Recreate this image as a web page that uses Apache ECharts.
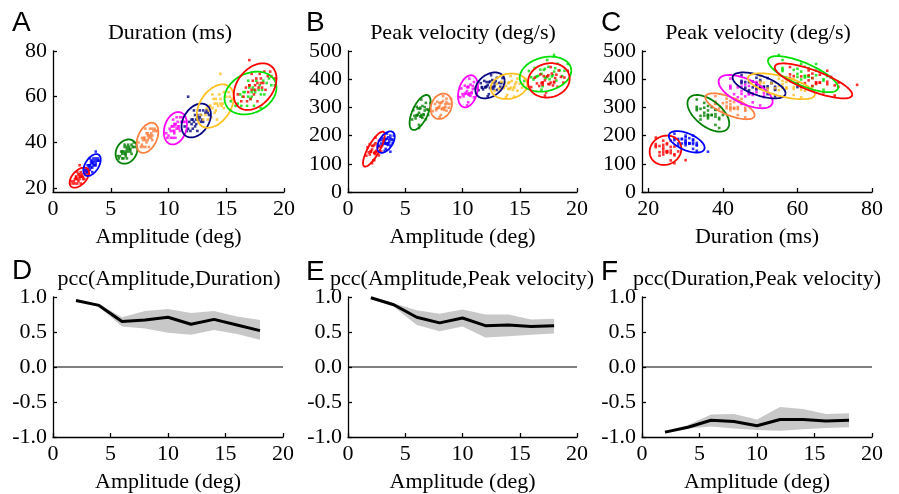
<!DOCTYPE html>
<html>
<head>
<meta charset="utf-8">
<script src="https://cdn.jsdelivr.net/npm/echarts@6/dist/echarts.min.js"></script>
<style>
html,body{margin:0;padding:0;background:#fff;}
#chart{width:899px;height:494px;}
</style>
</head>
<body>
<div id="chart"></div>
<script>
// ---------- data ----------
const clusterColors = ['#ff0000','#0000ff','#008000','#ff8040','#ff00ff','#000080','#ffc020','#00e000','#ff0000'];

const amplitude = [
  [2.3,2.6,1.9,2.9,1.7,2.4,2.1,2.4,2.2,2.7,2.0,2.5,1.6,3.1,2.4,2.1,2.3,2.5,2.0,2.8,1.8,2.3,2.2,2.7,1.9,2.6,2.0,2.3,2.4,2.1,2.9],
  [3.3,3.7,3.0,3.9,2.9,3.5,3.2,3.5,3.3,3.7,3.1,3.6,2.7,4.0,3.4,3.2,3.7,3.5,3.2,3.8,2.9,3.4,3.3,3.7,3.0,3.6,3.1,3.4,3.4,3.2,3.9],
  [6.3,6.7,5.9,7.0,5.7,6.5,6.1,6.5,6.2,6.8,6.0,6.6,5.6,7.2,6.4,6.2,6.6,6.1,6.9,5.8,6.4,6.3,6.8,6.0,6.7,6.0,6.3,6.4,6.2,7.0],
  [8.2,8.6,7.7,8.8,7.6,8.4,8.0,8.3,8.1,8.6,7.8,8.5,7.4,9.0,8.3,8.0,8.4,7.9,8.7,7.7,8.2,8.1,8.6,7.8,8.5,7.9,8.2,8.3,8.0,8.9],
  [10.5,10.9,10.1,11.2,9.9,10.7,10.4,10.7,10.5,11.0,10.2,10.8,9.8,11.4,10.6,10.4,10.8,10.3,11.1,10.0,10.6,10.5,11.0,10.2,10.9,10.3,10.5,10.6,10.4,11.3],
  [12.4,12.9,11.8,13.3,11.6,12.7,12.1,12.6,12.3,13.0,12.0,12.8,11.4,13.5,12.5,12.2,11.7,12.7,12.1,13.2,11.7,12.5,12.3,13.0,11.9,12.8,12.0,12.4,12.5,12.2,13.4],
  [14.0,14.7,13.3,15.2,13.0,14.4,13.7,14.3,13.9,14.8,13.5,14.5,12.8,15.5,14.2,13.8,14.5,14.5,13.6,15.0,13.2,14.1,14.0,14.8,13.4,14.6,13.6,14.1,14.2,13.8,15.3],
  [17.2,18.1,16.2,18.7,15.8,17.6,16.8,17.5,17.0,18.3,16.4,17.9,15.4,19.2,17.4,16.9,18.0,17.8,16.6,18.5,16.0,17.3,17.1,18.2,16.3,18.0,16.5,17.2,17.4,16.9,18.9],
  [17.5,18.2,16.7,18.8,16.3,17.9,17.1,17.8,17.3,18.4,16.9,18.0,16.0,19.2,17.7,17.2,17.0,18.0,17.0,18.6,16.5,17.6,17.4,18.3,16.8,18.1,17.0,17.5,17.7,17.2,18.9]
];
const duration = [
  [25,25,24,28,22,27,22,25,26,24,24,26,23,26,22,27,30,25,25,27,23,26,23,27,22,24,25,24,25,24,26],
  [31,31,30,33,27,33,28,30,32,30,29,32,28,32,27,33,36,31,30,32,28,32,29,33,27,30,30,29,31,30,32],
  [36,37,36,40,33,39,33,36,38,35,35,38,34,38,33,39,37,36,38,34,38,34,39,33,36,36,35,37,35,38],
  [43,43,42,46,38,46,38,42,44,41,41,44,40,45,38,46,43,42,45,39,44,40,46,38,42,42,41,43,41,45],
  [47,47,46,51,42,51,42,46,48,45,45,49,44,49,42,50,47,47,49,43,48,44,51,42,46,47,45,48,45,49],
  [50,50,49,54,45,54,46,50,52,49,48,52,47,52,45,54,60,51,50,53,46,52,47,54,45,49,50,48,51,49,53],
  [57,57,55,62,50,61,51,56,59,55,54,59,52,59,50,61,70,57,56,60,52,59,53,62,50,56,56,54,57,55,60],
  [62,63,61,68,56,67,56,62,64,61,60,65,58,65,56,67,55,63,62,66,57,64,59,67,56,61,62,60,63,60,65],
  [65,66,64,71,58,70,59,64,67,63,62,68,61,68,58,70,76,66,65,69,60,68,61,71,58,64,65,63,66,63,69]
];
const velocity = [
  [139,169,133,144,159,134,164,173,112,182,142,147,129,182,193,102,113,143,145,161,141,138,163,130,170,158,143,167,143,151,160],
  [171,191,166,174,184,167,188,194,153,200,172,176,164,200,207,146,143,173,174,186,172,170,187,165,191,184,173,189,173,179,185],
  [268,301,261,273,290,263,296,305,238,316,271,276,257,315,328,227,273,274,293,270,267,295,258,302,289,272,299,273,281,291],
  [295,319,290,299,312,291,316,323,273,331,297,301,287,330,340,265,298,300,313,296,294,315,288,320,311,298,318,298,305,312],
  [346,376,339,351,367,341,372,381,318,390,348,354,336,390,402,307,350,352,369,347,344,371,336,377,365,349,374,350,358,368],
  [369,393,364,373,386,365,390,397,347,405,371,375,361,404,414,339,372,373,374,387,370,368,389,362,394,385,372,392,373,379,386],
  [366,390,361,370,383,362,387,394,344,402,368,372,358,401,411,336,338,370,371,384,367,365,386,359,391,382,369,389,370,376,383],
  [406,439,399,411,429,400,434,444,375,455,408,414,394,454,468,363,486,410,412,431,407,404,433,395,440,427,410,437,410,419,430],
  [383,416,376,388,405,378,411,420,353,431,386,391,372,430,443,342,380,388,389,408,385,382,410,373,417,404,387,414,388,396,406]
];

// ellipses: [centerX, centerY, halfExtentX, halfExtentY, tilt]
const ellipseA = [
  [2.28,24.6,0.84,4.4,0.5],[3.38,30.1,0.75,4.8,0.5],[6.36,36.0,0.94,5.3,0.2],
  [8.18,42.0,0.94,6.6,0.4],[10.6,46.2,1.0,7.1,0.25],[12.4,49.6,1.27,7.4,0.35],
  [14.05,55.9,1.6,9.5,0.4],[17.1,61.6,2.25,9.35,0.25],[17.5,64.4,1.85,10.2,0.35]
];
const ellipseB = [
  [2.26,152,0.95,62,0.8],[3.32,177,0.76,38,0.5],[6.3,282,0.92,62,0.6],
  [8.15,304,0.93,45,0.2],[10.48,357,0.87,57,0.3],[12.4,378,1.28,46,0.35],
  [14.06,375,1.6,45,0.15],[17.25,418,2.25,62,0.2],[17.54,396,1.82,61,0.1]
];
const ellipseC = [
  [24.6,148,4.25,52,0.1],[30.3,178,4.8,38,-0.55],[36.1,279,5.6,65,-0.55],
  [41.9,304,6.6,46,-0.68],[46.1,356,7.25,59,-0.6],[49.7,378,7.1,46,-0.6],
  [55.7,375,9.0,46,-0.62],[61.5,418,9.4,64,-0.74],[64.3,394,10.4,62,-0.78]
];

const pccX = [2,4,6,8,10,12,14,16,18];
const pccAD = [0.95,0.88,0.65,0.67,0.71,0.61,0.68,0.60,0.52];
const pccAD_hi = [0.96,0.90,0.71,0.80,0.83,0.77,0.80,0.72,0.67];
const pccAD_lo = [0.94,0.86,0.58,0.55,0.49,0.46,0.53,0.47,0.39];
const pccAV = [0.99,0.89,0.71,0.63,0.70,0.59,0.60,0.58,0.59];
const pccAV_hi = [1.00,0.91,0.81,0.76,0.82,0.75,0.75,0.68,0.69];
const pccAV_lo = [0.98,0.86,0.60,0.51,0.58,0.42,0.44,0.46,0.48];
const pccDV = [-0.93,-0.86,-0.76,-0.78,-0.84,-0.75,-0.75,-0.77,-0.76];
const pccDV_hi = [-0.92,-0.83,-0.68,-0.67,-0.75,-0.57,-0.60,-0.67,-0.66];
const pccDV_lo = [-0.95,-0.88,-0.85,-0.88,-0.90,-0.91,-0.89,-0.87,-0.86];

const yTicksA = [20,40,60,80];
const xTicksC = [20,40,60,80];

// ---------- chart ----------
const SERIF = 'Liberation Serif';
const labelStyle = {color:'#000', fontFamily:SERIF, fontSize:22};
function baseAxis(extra){
  return Object.assign({
    axisLine:{show:true, onZero:false, lineStyle:{color:'#000', width:1.3}},
    axisTick:{show:true, inside:true, length:4, lineStyle:{color:'#000', width:1.3}},
    axisLabel:Object.assign({margin:6}, labelStyle),
    splitLine:{show:false},
    nameTextStyle:{color:'#000', fontFamily:SERIF, fontSize:22},
    nameLocation:'middle'
  }, extra);
}

const grids = [
  {left:53, top:51, width:231, height:141},
  {left:348, top:51, width:229, height:141},
  {left:642, top:51, width:230, height:141},
  {left:53, top:297, width:230, height:140},
  {left:348, top:297, width:229, height:140},
  {left:642, top:297, width:230, height:140}
];

const xAxes = [
  baseAxis({gridIndex:0, type:'value', min:0, max:20, interval:5, name:'Amplitude (deg)', nameGap:34}),
  baseAxis({gridIndex:1, type:'value', min:0, max:20, interval:5, name:'Amplitude (deg)', nameGap:34}),
  baseAxis({gridIndex:2, type:'value', min:18.3, max:80, name:'Duration (ms)', nameGap:34,
    axisLabel:Object.assign({margin:6, customValues:xTicksC}, labelStyle),
    axisTick:{show:true, inside:true, length:4, customValues:xTicksC, lineStyle:{color:'#000', width:1.3}}}),
  baseAxis({gridIndex:3, type:'value', min:0, max:20, interval:5, name:'Amplitude (deg)', nameGap:34}),
  baseAxis({gridIndex:4, type:'value', min:0, max:20, interval:5, name:'Amplitude (deg)', nameGap:34}),
  baseAxis({gridIndex:5, type:'value', min:0, max:20, interval:5, name:'Amplitude (deg)', nameGap:34})
];
const pccLabel = Object.assign({margin:6, formatter:v=>v.toFixed(1)}, labelStyle);
const yAxes = [
  baseAxis({gridIndex:0, type:'value', min:18.3, max:80,
    axisLabel:Object.assign({margin:6, customValues:yTicksA}, labelStyle),
    axisTick:{show:true, inside:true, length:4, customValues:yTicksA, lineStyle:{color:'#000', width:1.3}}}),
  baseAxis({gridIndex:1, type:'value', min:0, max:500, interval:100}),
  baseAxis({gridIndex:2, type:'value', min:0, max:500, interval:100}),
  baseAxis({gridIndex:3, type:'value', min:-1, max:1, interval:0.5, axisLabel:pccLabel}),
  baseAxis({gridIndex:4, type:'value', min:-1, max:1, interval:0.5, axisLabel:pccLabel}),
  baseAxis({gridIndex:5, type:'value', min:-1, max:1, interval:0.5, axisLabel:pccLabel})
];

function ellipseSeries(idx, rows){
  return {
    type:'custom', xAxisIndex:idx, yAxisIndex:idx, silent:true, z:3,
    data: rows,
    renderItem:function(params, api){
      const cx=api.value(0), cy=api.value(1), sx=api.value(2), sy=api.value(3), r=api.value(4);
      const k=Math.sqrt(1-r*r);
      const pts=[];
      for(let i=0;i<=90;i++){
        const t=i/90*2*Math.PI;
        pts.push(api.coord([cx+sx*Math.cos(t), cy+sy*(r*Math.cos(t)+k*Math.sin(t))]));
      }
      return {type:'polyline', shape:{points:pts}, style:{stroke:clusterColors[params.dataIndex], lineWidth:1.8, fill:null}};
    }
  };
}

function scatterSeries(idx, xs, ys){
  return xs.map((col,i)=>({
    type:'scatter', xAxisIndex:idx, yAxisIndex:idx, silent:true, z:2,
    symbol:'rect', symbolSize:2.6,
    itemStyle:{color:clusterColors[i]},
    data: col.map((v,j)=>[v, ys[i][j]])
  }));
}

function bandSeries(idx, lo, hi){
  return {
    type:'custom', xAxisIndex:idx, yAxisIndex:idx, silent:true, z:1,
    data:[[pccX[0], lo[0]]],
    renderItem:function(params, api){
      const pts=[];
      for(let i=0;i<pccX.length;i++) pts.push(api.coord([pccX[i], hi[i]]));
      for(let i=pccX.length-1;i>=0;i--) pts.push(api.coord([pccX[i], lo[i]]));
      return {type:'polygon', shape:{points:pts}, style:{fill:'#c8c8c8', stroke:null}};
    }
  };
}
function lineSeries(idx, ys){
  return {type:'line', xAxisIndex:idx, yAxisIndex:idx, silent:true, z:4, symbol:'none',
    lineStyle:{color:'#000', width:3}, data:pccX.map((x,i)=>[x, ys[i]])};
}
function zeroSeries(idx){
  return {type:'line', xAxisIndex:idx, yAxisIndex:idx, silent:true, z:2, symbol:'none',
    lineStyle:{color:'#000', width:1.2}, data:[[0,0],[20,0]]};
}

const series = [].concat(
  scatterSeries(0, amplitude, duration), [ellipseSeries(0, ellipseA)],
  scatterSeries(1, amplitude, velocity), [ellipseSeries(1, ellipseB)],
  scatterSeries(2, duration, velocity), [ellipseSeries(2, ellipseC)],
  [bandSeries(3, pccAD_lo, pccAD_hi), lineSeries(3, pccAD), zeroSeries(3)],
  [bandSeries(4, pccAV_lo, pccAV_hi), lineSeries(4, pccAV), zeroSeries(4)],
  [bandSeries(5, pccDV_lo, pccDV_hi), lineSeries(5, pccDV), zeroSeries(5)]
);

function txt(t, x, y, font, align){
  return {type:'text', x:x, y:y, style:{text:t, font:font, fill:'#000', textAlign:align||'center', textVerticalAlign:'middle'}};
}
const tFont = '22px "Liberation Serif"';
const lFont = '28px "Liberation Sans"';
const graphic = [
  txt('A', 12, 23, lFont, 'left'), txt('B', 306, 23, lFont, 'left'), txt('C', 601, 23, lFont, 'left'),
  txt('D', 12, 271, lFont, 'left'), txt('E', 306, 272, lFont, 'left'), txt('F', 601, 272, lFont, 'left'),
  txt('Duration (ms)', 170, 33, tFont), txt('Peak velocity (deg/s)', 463, 33, tFont), txt('Peak velocity (deg/s)', 758, 33, tFont),
  txt('pcc(Amplitude,Duration)', 169, 279, tFont), txt('pcc(Amplitude,Peak velocity)', 462, 279, tFont), txt('pcc(Duration,Peak velocity)', 757, 279, tFont)
];

const chart = echarts.init(document.getElementById('chart'), null, {renderer:'canvas'});
chart.setOption({
  animation:false,
  backgroundColor:'#fff',
  grid:grids, xAxis:xAxes, yAxis:yAxes, series:series, graphic:graphic
});
</script>
</body>
</html>
